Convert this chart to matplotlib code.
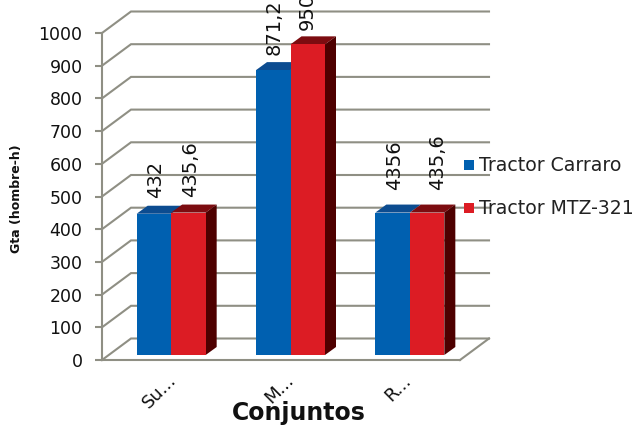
"""
Bar chart with a fake 3D look: Gta per conjunto for two tractors.
"""
import matplotlib
matplotlib.use("Agg")
import matplotlib.pyplot as plt
import matplotlib.transforms as mtrans
import numpy as np

categories = ["Su...", "M...", "R..."]
carraro = [432, 871.2, 435.6]
mtz = [435.6, 950, 435.6]
carraro_labels = ["432", "871,2", "4356"]
mtz_labels = ["435,6", "950", "435,6"]
y_ticks = [0, 100, 200, 300, 400, 500, 600, 700, 800, 900, 1000]

W, H = 636, 428
LEFT, RIGHT, TOP, BOTTOM = 102, 460, 33, 360   # axes box in pixels
GRID = "#8f8f84"
BLUE, BLUE_TOP = "#0060b0", "#0c4c90"
RED, RED_TOP, RED_SIDE = "#dc1c24", "#7c0c10", "#4e0000"

fig = plt.figure(figsize=(W / 100, H / 100), dpi=100)
ax = fig.add_axes([LEFT / W, 1 - BOTTOM / H, (RIGHT - LEFT) / W, (BOTTOM - TOP) / H])

px_x = 3.0 / (RIGHT - LEFT)           # category units per pixel
px_y = 1000.0 / (BOTTOM - TOP)        # value units per pixel
ax.set_xlim(-0.5, 2.5)
ax.set_ylim(0, 1000)
x = np.arange(len(categories))
shift = 9.5 * px_x                    # bars sit a little right of the slot centre
bar_w = 34.5 * px_x
base = 5 * px_y
wall_dx, wall_dy = 29 * px_x, 21.5 * px_y
depth_x, depth_y = 11 * px_x, 8 * px_y

# back wall and left wall gridlines
for v in y_ticks:
    ax.plot([-0.5, -0.5 + wall_dx, 2.5 + wall_dx], [v, v + wall_dy, v + wall_dy],
            color=GRID, lw=1.5, clip_on=False, zorder=1, solid_joinstyle="miter")
ax.plot([2.5, 2.5 + wall_dx], [0, wall_dy], color=GRID, lw=1.5, clip_on=False, zorder=1)


def draw_top_and_side(left, value, top_color, side_color=None):
    y0, y1 = base, base + value
    right = left + bar_w
    ax.fill([left, right, right + depth_x, left + depth_x],
            [y1, y1, y1 + depth_y, y1 + depth_y], color=top_color, lw=0, zorder=3, clip_on=False)
    if side_color:
        ax.fill([right, right + depth_x, right + depth_x, right],
                [y0, y0 + depth_y, y1 + depth_y, y1], color=side_color, lw=0, zorder=3)


for i in x:
    draw_top_and_side(i + shift - bar_w, carraro[i], BLUE_TOP)
    draw_top_and_side(i + shift, mtz[i], RED_TOP, RED_SIDE)
ax.bar(x + shift - bar_w / 2, carraro, bar_w, bottom=base, color=BLUE, zorder=4)
ax.bar(x + shift + bar_w / 2, mtz, bar_w, bottom=base, color=RED, zorder=4)

# value labels, nudged in pixels the way they sit in the chart
blue_nudge = [(2, 16), (1, 15), (2, 23)]
red_nudge = [(2, 16), (0, 14), (10, 23)]
for i in x:
    for vals, labs, nudge, cx in ((carraro, carraro_labels, blue_nudge, i + shift - bar_w / 2),
                                  (mtz, mtz_labels, red_nudge, i + shift + bar_w / 2)):
        ax.annotate(labs[i], (cx, base + vals[i]),
                    xytext=(nudge[i][0] * 0.72, nudge[i][1] * 0.72), textcoords="offset points",
                    rotation=90, ha="center", va="bottom", fontsize=14,
                    color="#111111", zorder=6, annotation_clip=False)

for side in ("top", "right"):
    ax.spines[side].set_visible(False)
for side in ("left", "bottom"):
    ax.spines[side].set_color(GRID)
    ax.spines[side].set_linewidth(1.5)
    ax.spines[side].set_zorder(2)

ax.set_yticks(y_ticks)
ax.tick_params(axis="y", length=5, width=1.5, color=GRID, labelsize=12.5,
               labelcolor="#111111", pad=9)
ax.set_xticks(x, categories, rotation=45, ha="center", va="top", fontsize=13, color="#111111")
ax.tick_params(axis="x", length=0, pad=8)
for lab in ax.get_xticklabels():
    lab.set_transform(lab.get_transform() + mtrans.ScaledTranslation(-2 / 100, 0, fig.dpi_scale_trans))

fig.text(298.5 / W, 1 - 413 / H, "Conjuntos", fontsize=17, fontweight="bold",
         ha="center", va="center", color="#111111")
fig.text(17 / W, 1 - 199 / H, "Gta (hombre-h)", fontsize=9, fontweight="bold",
         rotation=90, ha="center", va="center", color="#111111")

# legend drawn by hand, the gridlines run through it
for name, color, yp in (("Tractor Carraro", BLUE, 165), ("Tractor MTZ-321", RED, 208)):
    fig.patches.append(plt.Rectangle((464 / W, 1 - (yp + 5) / H), 10 / W, 10 / H,
                                     transform=fig.transFigure, color=color, lw=0, zorder=7))
    fig.text(479 / W, 1 - yp / H, name, fontsize=13.6, va="center", ha="left",
             color="#222222", zorder=8)

fig.savefig("out.png", dpi=100)
